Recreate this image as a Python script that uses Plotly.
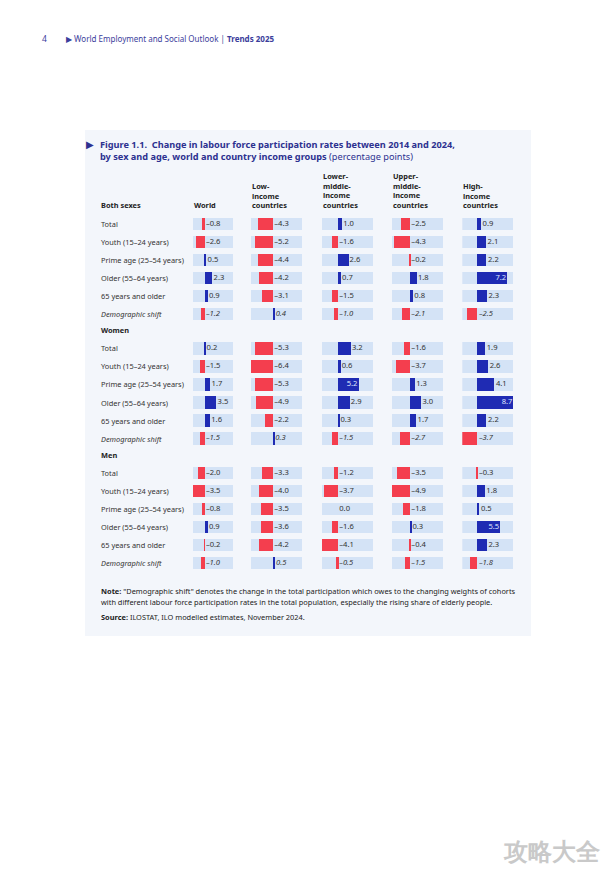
import plotly.graph_objects as go

# page is rendered with an 8px body margin: convert page px -> figure px
OFF = 8
W, H = 600, 858

# ---------------- data ----------------
column_titles = ["World", "Low-<br>income<br>countries", "Lower-<br>middle-<br>income<br>countries",
                 "Upper-<br>middle-<br>income<br>countries", "High-<br>income<br>countries"]
row_labels = ["Total", "Youth (15–24 years)", "Prime age (25–54 years)", "Older (55–64 years)",
              "65 years and older", "Demographic shift"]
groups = ["Both sexes", "Women", "Men"]

both_world = [-0.8, -2.6, 0.5, 2.3, 0.9, -1.2]
both_low = [-4.3, -5.2, -4.4, -4.2, -3.1, 0.4]
both_lower_mid = [1.0, -1.6, 2.6, 0.7, -1.5, -1.0]
both_upper_mid = [-2.5, -4.3, -0.2, 1.8, 0.8, -2.1]
both_high = [0.9, 2.1, 2.2, 7.2, 2.3, -2.5]

women_world = [0.2, -1.5, 1.7, 3.5, 1.6, -1.5]
women_low = [-5.3, -6.4, -5.3, -4.9, -2.2, 0.3]
women_lower_mid = [3.2, 0.6, 5.2, 2.9, 0.3, -1.5]
women_upper_mid = [-1.6, -3.7, 1.3, 3.0, 1.7, -2.7]
women_high = [1.9, 2.6, 4.1, 8.7, 2.2, -3.7]

men_world = [-2.0, -3.5, -0.8, 0.9, -0.2, -1.0]
men_low = [-3.3, -4.0, -3.5, -3.6, -4.2, 0.5]
men_lower_mid = [-1.2, -3.7, 0.0, -1.6, -4.1, -0.5]
men_upper_mid = [-3.5, -4.9, -1.8, 0.3, -0.4, -1.5]
men_high = [-0.3, 1.8, 0.5, 5.5, 2.3, -1.8]

columns_data = [
    both_world + women_world + men_world,
    both_low + women_low + men_low,
    both_lower_mid + women_lower_mid + men_lower_mid,
    both_upper_mid + women_upper_mid + men_upper_mid,
    both_high + women_high + men_high,
]

# ---------------- layout constants ----------------
RED = "#f43e4e"
BLUE = "#1f2bb3"
CELL = "#d4e3f6"
PANEL = "#f3f6fb"
TITLE_C = "#2d3190"
TEXT_C = "#333333"
FONT = "Noto Sans"


def px(x):
    return (x - OFF) / W


def py(y):
    return 1 - (y - OFF) / H


GROUP_GAP = 1.9
ypos = []
for g in range(3):
    start = g * (5 + GROUP_GAP)
    ypos += [start + i for i in range(6)]
group_header_y = [None, 1 * (5 + GROUP_GAP) - 1.0, 2 * (5 + GROUP_GAP) - 1.0]

col_px = [(193, 233), (251, 302), (321.7, 373), (392, 443.3), (462.3, 513.7)]
col_ranges = [(-3.5, 8.5), (-6.4, 8.4), (-4.1, 8.8), (-4.9, 9.0), (-3.7, 8.7)]
BAR_W = 0.69

y_top_px, y_bot_px = 215, 572

fig = go.Figure()

layout_axes = {}
for c, vals in enumerate(columns_data):
    ax = "x" if c == 0 else f"x{c+1}"
    rmin, rmax = col_ranges[c]
    n = len(vals)
    # background cell
    fig.add_trace(go.Bar(orientation="h", y=ypos, x=[rmax - rmin] * n, base=[rmin] * n,
                         marker=dict(color=CELL, line=dict(width=0)), width=BAR_W,
                         xaxis=ax, yaxis="y", hoverinfo="skip", showlegend=False))
    # data bars
    fig.add_trace(go.Bar(orientation="h", y=ypos, x=vals, base=[0] * n,
                         marker=dict(color=[RED if v < 0 else BLUE for v in vals], line=dict(width=0)),
                         width=BAR_W, xaxis=ax, yaxis="y", hoverinfo="skip", showlegend=False))
    # labels
    out_x, out_y, out_t, in_x, in_y, in_t = [], [], [], [], [], []
    for i, v in enumerate(vals):
        s = f"–{abs(v):.1f}" if v < 0 else f"{v:.1f}"
        if i % 6 == 5:
            s = f"<i>{s}</i>"
        if v >= 5:
            in_x.append(v); in_y.append(ypos[i]); in_t.append(s + "\u2009")
        else:
            out_x.append(max(v, 0)); out_y.append(ypos[i]); out_t.append("\u2009" + s)
    fig.add_trace(go.Scatter(x=out_x, y=out_y, text=out_t, mode="text", textposition="middle right",
                             textfont=dict(family=FONT, size=7.6, color=TEXT_C),
                             xaxis=ax, yaxis="y", hoverinfo="skip", showlegend=False, cliponaxis=False))
    if in_x:
        fig.add_trace(go.Scatter(x=in_x, y=in_y, text=in_t, mode="text", textposition="middle left",
                                 textfont=dict(family=FONT, size=7.6, color="#dfe6ff"),
                                 xaxis=ax, yaxis="y", hoverinfo="skip", showlegend=False, cliponaxis=False))
    key = "xaxis" if c == 0 else f"xaxis{c+1}"
    layout_axes[key] = dict(domain=[px(col_px[c][0]), px(col_px[c][1])], range=[rmin, rmax],
                            visible=False, anchor="y", fixedrange=True)

annotations = []


def ann(text, xpx, ypx, size, color=TEXT_C, xanchor="left", yanchor="middle", bold=False, **kw):
    if bold:
        text = f"<b>{text}</b>"
    d = dict(text=text, x=px(xpx), y=py(ypx), xref="paper", yref="paper",
             xanchor=xanchor, yanchor=yanchor, showarrow=False,
             font=dict(family=FONT, size=size, color=color), align="left")
    d.update(kw)
    annotations.append(d)


# page header
ann("4", 40, 38, 8.5, color="#3b3e9c")
ann("▶ World Employment and Social Outlook | <b>Trends 2025</b>", 64, 38, 8.0, color="#3b3e9c")

# title
ann("▶", 84, 145, 9.5, color=TITLE_C)
ann("<b>Figure 1.1.  Change in labour force participation rates between 2014 and 2024,</b>", 98, 145, 9.2, color=TITLE_C)
ann("<b>by sex and age, world and country income groups</b> (percentage points)", 98, 156.5, 9.2, color=TITLE_C)

# column headers
for c, t in enumerate(column_titles):
    ann(t, col_px[c][0] - 1, 212, 7.4, color="#222222", yanchor="bottom", bold=True)
ann("Both sexes", 99, 212, 7.4, color="#222222", yanchor="bottom", bold=True)

# group headers + row labels (data y)
for g in range(3):
    if group_header_y[g] is not None:
        annotations.append(dict(text=f"<b>{groups[g]}</b>", x=px(99), y=group_header_y[g], xref="paper", yref="y",
                                xanchor="left", yanchor="middle", showarrow=False,
                                font=dict(family=FONT, size=7.4, color="#222222")))
    for i, lab in enumerate(row_labels):
        t = f"<i>{lab}</i>" if i == 5 else lab
        annotations.append(dict(text=t, x=px(99), y=ypos[g * 6 + i], xref="paper", yref="y",
                                xanchor="left", yanchor="middle", showarrow=False,
                                font=dict(family=FONT, size=7.4, color=TEXT_C)))

# note and source
ann("<b>Note:</b> \"Demographic shift\" denotes the change in the total participation which owes to the changing weights of cohorts",
    99, 591, 7.4, color="#222222")
ann("with different labour force participation rates in the total population, especially the rising share of elderly people.",
    99, 602, 7.4, color="#222222")
ann("<b>Source:</b> ILOSTAT, ILO modelled estimates, November 2024.", 99, 617, 7.4, color="#222222")

# watermark
ann("<b>攻略大全</b>", 603, 850, 24, color="#c9c9c9", xanchor="right")

shapes = [dict(type="rect", xref="paper", yref="paper", x0=px(85), x1=px(531), y0=py(636), y1=py(130),
               fillcolor=PANEL, line=dict(width=0), layer="below")]

fig.update_layout(
    width=W, height=H, margin=dict(l=0, r=0, t=0, b=0),
    paper_bgcolor="white", plot_bgcolor="rgba(0,0,0,0)",
    barmode="overlay", bargap=0,
    yaxis=dict(domain=[py(y_bot_px), py(y_top_px)], range=[ypos[-1] + 0.5, -0.5],
               visible=False, fixedrange=True),
    annotations=annotations, shapes=shapes, showlegend=False,
    **layout_axes,
)

fig.write_html("out.html")
